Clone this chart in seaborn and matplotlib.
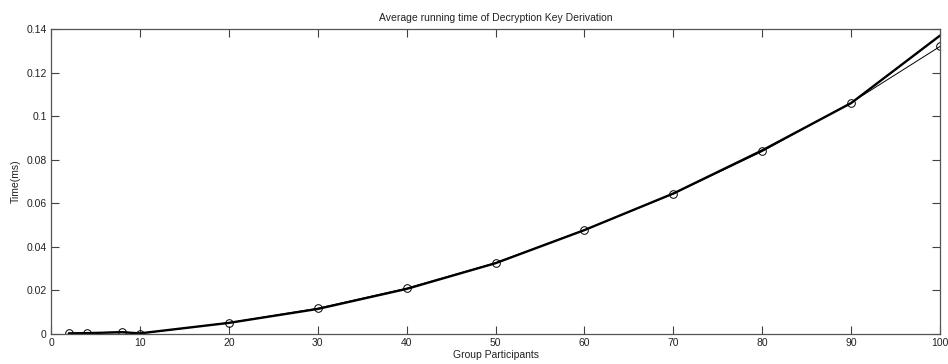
import matplotlib
matplotlib.use("Agg")
import matplotlib.pyplot as plt
import seaborn as sns
import pandas as pd

participants = [2, 4, 8, 10, 20, 30, 40, 50, 60, 70, 80, 90, 100]
measured = [0.0003, 0.0003, 0.0011, 0.0002, 0.0052, 0.0118, 0.0210, 0.0327, 0.0478, 0.0643, 0.0838, 0.1062, 0.1320]
fitted = [0.0003, 0.0004, 0.0008, 0.0003, 0.0051, 0.0115, 0.0207, 0.0325, 0.0477, 0.0645, 0.0843, 0.1060, 0.1370]
xticks = [0, 10, 20, 30, 40, 50, 60, 70, 80, 90, 100]
yticks = [0, 0.02, 0.04, 0.06, 0.08, 0.1, 0.12, 0.14]
ytick_labels = ["0", "0.02", "0.04", "0.06", "0.08", "0.1", "0.12", "0.14"]

sns.set_style("white")
plt.rcParams['font.family'] = ['Liberation Sans', 'DejaVu Sans']

df_fit = pd.DataFrame({"x": participants, "y": fitted})
df_meas = pd.DataFrame({"x": participants, "y": measured})

fig = plt.figure(figsize=(9.48, 3.64), dpi=100)
ax = fig.add_axes([0.0538, 0.0824, 0.9378, 0.8379])

sns.lineplot(data=df_fit, x="x", y="y", ax=ax, color="black", linewidth=1.7)
sns.lineplot(data=df_meas, x="x", y="y", ax=ax, color="black", linewidth=0.7,
             marker="o", markersize=5.5, markerfacecolor="none",
             markeredgecolor="black", markeredgewidth=0.7)

ax.set_xlim(0, 100)
ax.set_ylim(0, 0.14)
ax.set_xticks(xticks)
ax.set_xticklabels([str(t) for t in xticks])
ax.set_yticks(yticks)
ax.set_yticklabels(ytick_labels)
ax.tick_params(direction="in", length=6, width=0.8, color="#404040",
               labelsize=7.5, labelcolor="#222222", top=True, right=True,
               bottom=True, left=True, pad=3)
for s in ax.spines.values():
    s.set_visible(True)
    s.set_color("#555555")
    s.set_linewidth(0.9)

ax.set_title("Average running time of Decryption Key Derivation", fontsize=7.5,
             color="#222222", pad=6)
ax.set_xlabel("Group Participants", fontsize=7.5, color="#222222", labelpad=1)
ax.set_ylabel("Time(ms)", fontsize=7.5, color="#222222", labelpad=4)

fig.savefig("out.png", dpi=100)
